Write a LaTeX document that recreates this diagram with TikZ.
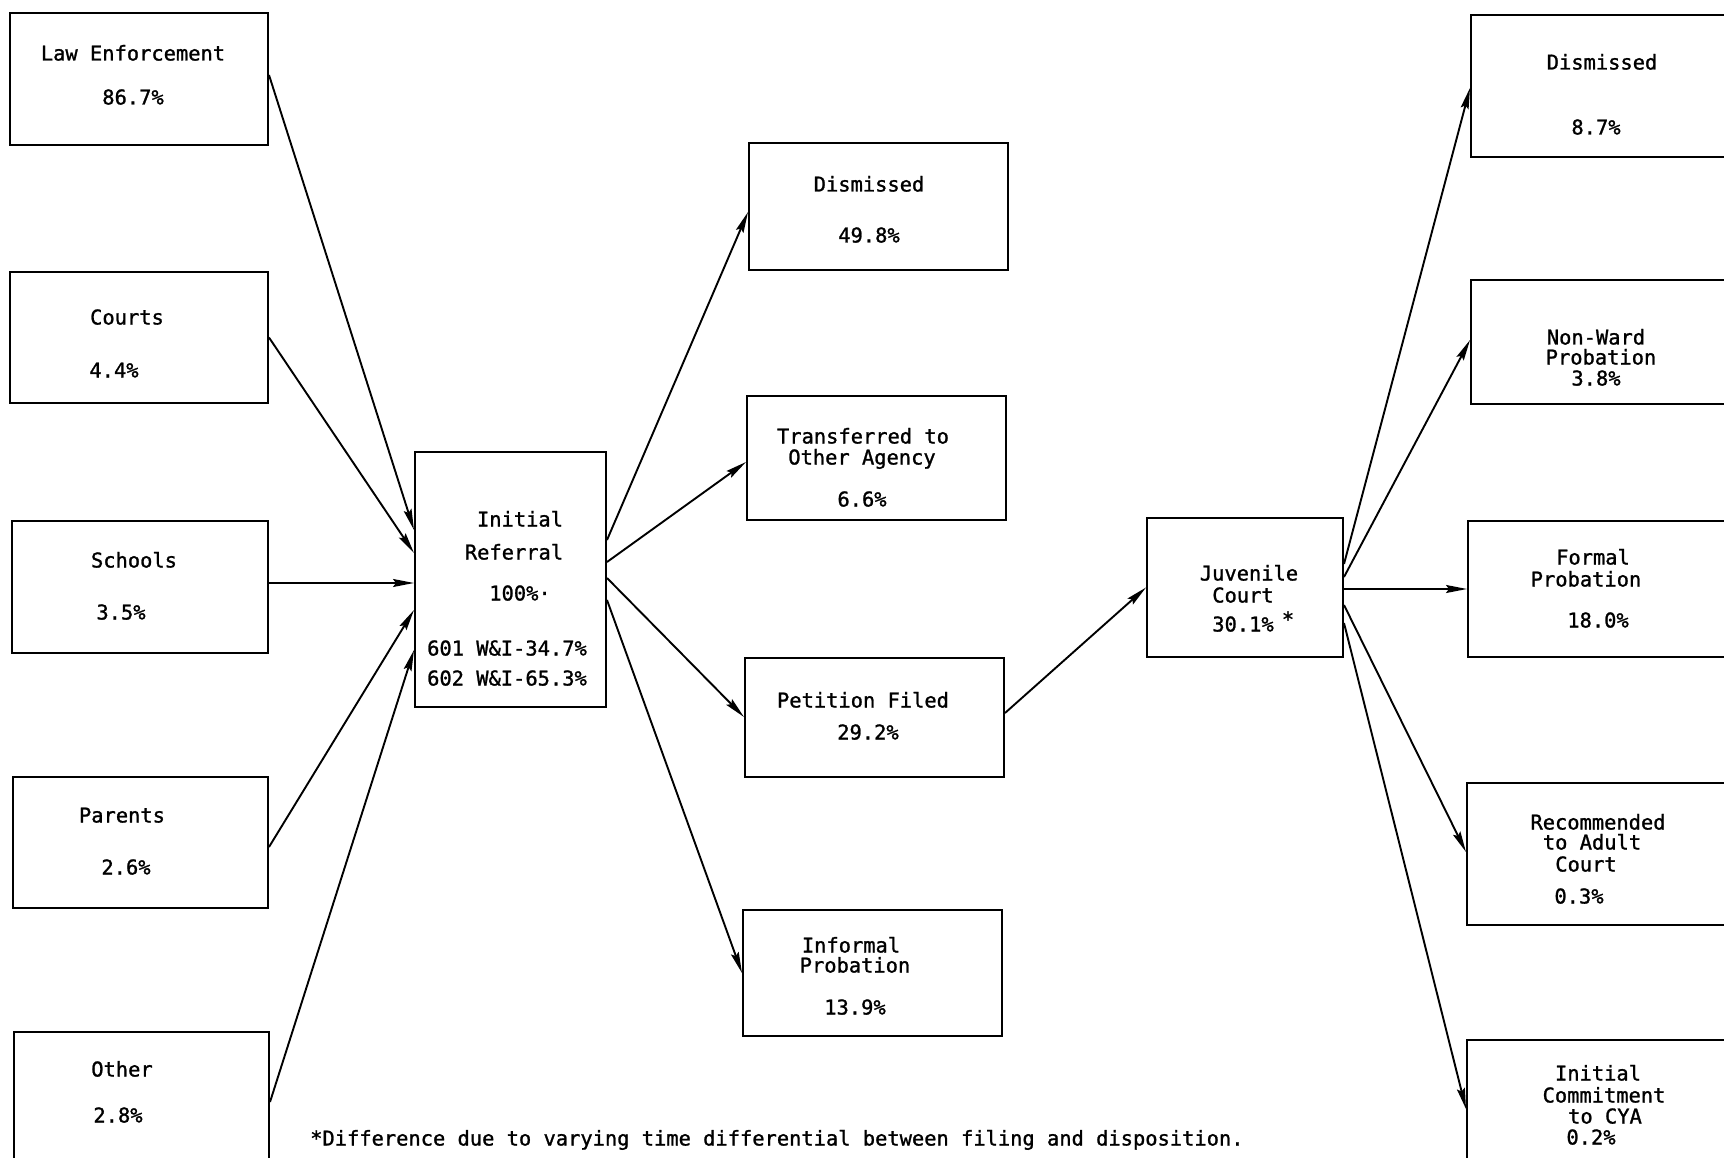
\documentclass[tikz,border=0pt]{standalone}
\usepackage{fontspec}
\newfontfamily\typew[FakeBold=1.2]{DejaVu Sans Mono}
\usetikzlibrary{arrows.meta}
\begin{document}
\begin{tikzpicture}[x=1pt,y=-1pt,
  box/.style={draw, line width=2pt, rectangle, inner sep=0pt},
  lbl/.style={font=\typew\fontsize{20.4}{24}\selectfont, inner sep=0pt, anchor=base, yshift=-7.5pt},
  flow/.style={line width=1.9pt, -{Stealth[length=21pt,width=8pt,inset=3pt]}}]
\useasboundingbox (0,0) rectangle (1724,1158);
\clip (0,0) rectangle (1724,1158);
\fill[white] (0,0) rectangle (1724,1158);

% referral sources
\node[box, minimum width=258pt, minimum height=132pt] (le) at (139,79) {};
\node[box, minimum width=258pt, minimum height=131pt] (co) at (139,337.5) {};
\node[box, minimum width=256pt, minimum height=132pt] (sc) at (139.5,587) {};
\node[box, minimum width=255pt, minimum height=131pt] (pa) at (140.5,842.5) {};
\node[box, minimum width=255pt, minimum height=138pt] (ot) at (141.5,1101) {};

% intake
\node[box, minimum width=191pt, minimum height=255pt] (ir) at (510.5,579.5) {};

% intake dispositions
\node[box, minimum width=259pt, minimum height=127pt] (dm) at (878.5,206.5) {};
\node[box, minimum width=259pt, minimum height=124pt] (tr) at (876.5,458) {};
\node[box, minimum width=259pt, minimum height=119pt] (pf) at (874.5,717.5) {};
\node[box, minimum width=259pt, minimum height=126pt] (ip) at (872.5,973) {};

% court
\node[box, minimum width=196pt, minimum height=139pt] (jc) at (1245,587.5) {};

% court dispositions
\node[box, minimum width=261pt, minimum height=142pt] (rd) at (1601.5,86) {};
\node[box, minimum width=261pt, minimum height=124pt] (nw) at (1601.5,342) {};
\node[box, minimum width=264pt, minimum height=136pt] (fp) at (1600,589) {};
\node[box, minimum width=265pt, minimum height=142pt] (ra) at (1599.5,854) {};
\node[box, minimum width=265pt, minimum height=135pt] (ic) at (1599.5,1107.5) {};

% labels
\node[lbl] (le1) at (133,53) {Law Enforcement};
\node[lbl] (le2) at (133,97) {86.7\%};
\node[lbl] (co1) at (127,317) {Courts};
\node[lbl] (co2) at (114,370) {4.4\%};
\node[lbl] (sc1) at (134,560) {Schools};
\node[lbl] (sc2) at (121,612) {3.5\%};
\node[lbl] (pa1) at (122,815) {Parents};
\node[lbl] (pa2) at (126,867) {2.6\%};
\node[lbl] (ot1) at (122,1069) {Other};
\node[lbl] (ot2) at (118,1115) {2.8\%};

\node[lbl] (ir1) at (520,519) {Initial};
\node[lbl] (ir2) at (514,552) {Referral};
\node[lbl] (ir3) at (520,593) {100\%·};
\node[lbl] (ir4) at (507,648) {601 W\&I-34.7\%};
\node[lbl] (ir5) at (507,678) {602 W\&I-65.3\%};

\node[lbl] (dm1) at (869,184) {Dismissed};
\node[lbl] (dm2) at (869,235) {49.8\%};
\node[lbl] (tr1) at (863,436) {Transferred to};
\node[lbl] (tr2) at (862,457) {Other Agency};
\node[lbl] (tr3) at (862,499) {6.6\%};
\node[lbl] (pf1) at (863,700) {Petition Filed};
\node[lbl] (pf2) at (868,732) {29.2\%};
\node[lbl] (ip1) at (851,945) {Informal};
\node[lbl] (ip2) at (855,965) {Probation};
\node[lbl] (ip3) at (855,1007) {13.9\%};

\node[lbl] (jc1) at (1249,573) {Juvenile};
\node[lbl] (jc2) at (1243,595) {Court};
\node[lbl] (jc3) at (1243,624) {30.1\%};
\node[lbl] (jc4) at (1288,619) {*};

\node[lbl] (rd1) at (1602,62) {Dismissed};
\node[lbl] (rd2) at (1596,127) {8.7\%};
\node[lbl] (nw1) at (1596,337) {Non-Ward};
\node[lbl] (nw2) at (1601,357) {Probation};
\node[lbl] (nw3) at (1596,378) {3.8\%};
\node[lbl] (fp1) at (1593,557) {Formal};
\node[lbl] (fp2) at (1586,579) {Probation};
\node[lbl] (fp3) at (1598,620) {18.0\%};
\node[lbl] (ra1) at (1598,822) {Recommended};
\node[lbl] (ra2) at (1592,842) {to Adult};
\node[lbl] (ra3) at (1586,864) {Court};
\node[lbl] (ra4) at (1579,896) {0.3\%};
\node[lbl] (ic1) at (1598,1073) {Initial};
\node[lbl] (ic2) at (1604,1095) {Commitment};
\node[lbl] (ic3) at (1605,1116) {to CYA};
\node[lbl] (ic4) at (1591,1137) {0.2\%};

\node[lbl, anchor=base west] (note) at (310,1138) {*Difference due to varying time differential between filing and disposition.};

% sources into intake
\draw[flow] ([yshift=4pt]le.east) -- ([yshift=49.5pt]ir.west);
\draw[flow] (co.east) -- ([yshift=26.5pt]ir.west);
\draw[flow] ([yshift=4pt]sc.east) -- ([yshift=-3.5pt]ir.west);
\draw[flow] ([yshift=-4.5pt]pa.east) -- ([yshift=-30.5pt]ir.west);
\draw[flow] ([yshift=-1pt]ot.east) -- ([yshift=-70.5pt]ir.west);

% intake outcomes
\draw[flow] ([yshift=39.5pt]ir.east) -- ([yshift=-5.5pt]dm.west);
\draw[flow] ([yshift=17.5pt]ir.east) -- ([yshift=-4pt]tr.west);
\draw[flow] ([yshift=1.5pt]ir.east) -- ([yshift=0.5pt]pf.west);
\draw[flow] ([yshift=-20.5pt]ir.east) -- (ip.west);

% petition to court
\draw[flow] ([yshift=4.5pt]pf.east) -- (jc.west);

% court outcomes
\draw[flow] ([yshift=23.5pt]jc.east) -- ([yshift=-2pt]rd.west);
\draw[flow] ([yshift=10.5pt]jc.east) -- ([yshift=2pt]nw.west);
\draw[flow] ([yshift=-1.5pt]jc.east) -- (fp.west);
\draw[flow] ([yshift=-17.5pt]jc.east) -- ([yshift=2pt]ra.west);
\draw[flow] ([yshift=-35.5pt]jc.east) -- ([yshift=-1.5pt]ic.west);
\end{tikzpicture}
\end{document}
